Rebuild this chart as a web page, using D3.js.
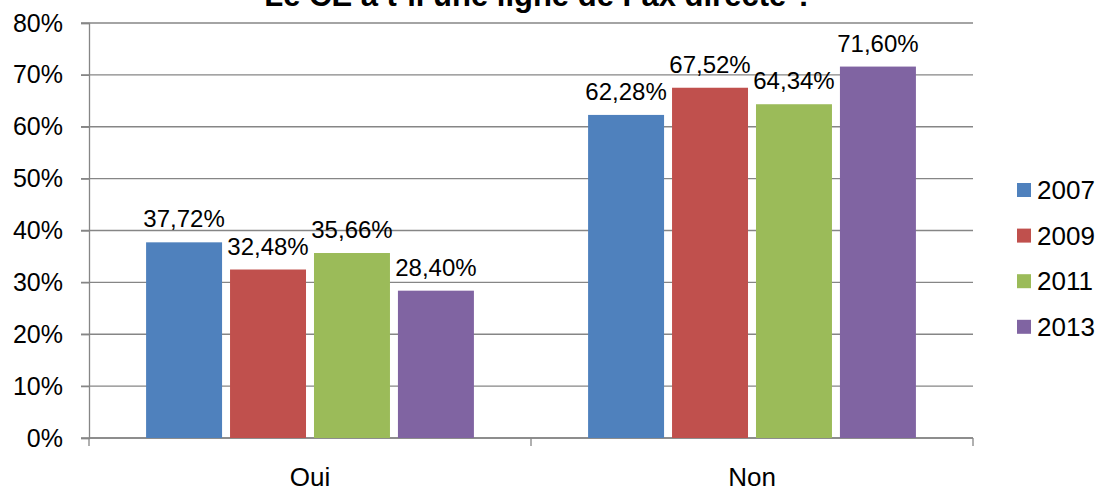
<!DOCTYPE html>
<html>
<head>
<meta charset="utf-8">
<script src="https://cdn.jsdelivr.net/npm/d3@7"></script>
<style>
  html, body { margin: 0; padding: 0; background: #fff; }
  svg { display: block; font-family: Arial, "Liberation Sans", sans-serif; }
</style>
</head>
<body>
<div id="chart"></div>
<script>
// chart values
var categories = ["Oui", "Non"];
var years = ["2007", "2009", "2011", "2013"];
var oui = [37.72, 32.48, 35.66, 28.40];
var non = [62.28, 67.52, 64.34, 71.60];
var yTicks = [0, 10, 20, 30, 40, 50, 60, 70, 80];
var colors = ["#4F81BD", "#C0504D", "#9BBB59", "#8064A2"];
var title = "Le CE a t-il une ligne de Fax directe ?";

var WIDTH = 1099, HEIGHT = 491;
var PLOT_LEFT = 89, PLOT_RIGHT = 973, PLOT_TOP = 23, PLOT_BOTTOM = 438;
var GRID = "#868686";

var series = [oui, non];

var svg = d3.select("#chart").append("svg")
    .attr("width", WIDTH)
    .attr("height", HEIGHT);

var x0 = d3.scaleBand().domain(categories).range([PLOT_LEFT, PLOT_RIGHT]).padding(0);
var x1 = d3.scaleBand().domain(years).range([0, x0.bandwidth()])
    .paddingInner(0.095).paddingOuter(0.68);
var y = d3.scaleLinear().domain([0, 80]).range([PLOT_BOTTOM, PLOT_TOP]);

var fmt = function (v) { return v.toFixed(2).replace(".", ",") + "%"; };

// gridlines
svg.append("g").selectAll("line").data(yTicks).join("line")
    .attr("x1", PLOT_LEFT - 8).attr("x2", PLOT_RIGHT)
    .attr("y1", d => y(d)).attr("y2", d => y(d))
    .attr("stroke", GRID).attr("stroke-width", 1.3);

// y axis
var yAxis = d3.axisLeft(y).tickValues(yTicks).tickSize(8).tickPadding(8)
    .tickFormat(d => d + "%");
var gy = svg.append("g").attr("transform", "translate(" + PLOT_LEFT + ",0)").call(yAxis);
gy.select(".domain").attr("stroke", GRID).attr("stroke-width", 1.3);
gy.selectAll(".tick line").attr("stroke", GRID).attr("stroke-width", 1.3);
gy.selectAll("text").attr("font-size", 25).attr("fill", "#000")
    .attr("font-family", "Arial, 'Liberation Sans', sans-serif")
    .attr("x", -26);

// x axis
var gx = svg.append("g").attr("transform", "translate(0," + PLOT_BOTTOM + ")");
gx.append("line").attr("x1", PLOT_LEFT).attr("x2", PLOT_RIGHT).attr("y1", 0).attr("y2", 0)
    .attr("stroke", GRID).attr("stroke-width", 1.3);
var edges = categories.map(c => x0(c)).concat([PLOT_RIGHT]);
gx.selectAll("line.tk").data(edges).join("line").attr("class", "tk")
    .attr("x1", d => d).attr("x2", d => d).attr("y1", 0).attr("y2", 8)
    .attr("stroke", GRID).attr("stroke-width", 1.3);
gx.selectAll("text").data(categories).join("text")
    .attr("x", d => x0(d) + x0.bandwidth() / 2).attr("y", 48)
    .attr("text-anchor", "middle").attr("font-size", 26).text(d => d);

// bars
var groups = svg.append("g").selectAll("g").data(categories).join("g")
    .attr("transform", d => "translate(" + x0(d) + ",0)");

groups.each(function (cat, ci) {
    var g = d3.select(this);
    var vals = series[ci];
    g.selectAll("rect").data(years).join("rect")
        .attr("x", d => x1(d)).attr("width", x1.bandwidth())
        .attr("y", (d, i) => y(vals[i]))
        .attr("height", (d, i) => y(0) - y(vals[i]))
        .attr("fill", (d, i) => colors[i]);
    g.selectAll("text").data(years).join("text")
        .attr("x", d => x1(d) + x1.bandwidth() / 2)
        .attr("y", (d, i) => y(vals[i]) - 15)
        .attr("text-anchor", "middle").attr("font-size", 24)
        .text((d, i) => fmt(vals[i]));
});

// legend
var legend = svg.append("g").selectAll("g").data(years).join("g")
    .attr("transform", (d, i) => "translate(1017," + (183 + i * 45.6) + ")");
legend.append("rect").attr("width", 14).attr("height", 14)
    .attr("fill", (d, i) => colors[i]);
legend.append("text").attr("x", 20).attr("y", 16).attr("font-size", 26).text(d => d);

// title (top part is cut off by the frame)
svg.append("text").attr("x", 539).attr("y", 6).attr("text-anchor", "middle")
    .attr("font-size", 31).attr("font-weight", "bold").text(title);
</script>
</body>
</html>
